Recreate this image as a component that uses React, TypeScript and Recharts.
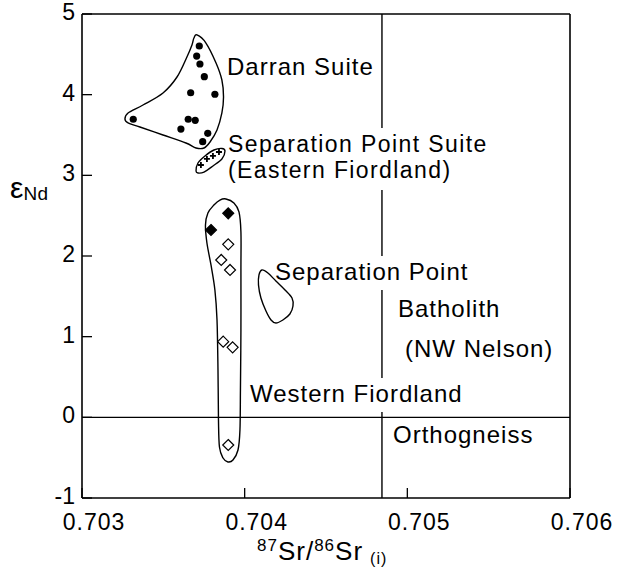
import React from "react";
import { ScatterChart, Scatter, XAxis, YAxis, ReferenceLine } from "recharts";

// Darran Suite (filled circles)
const darranSr = [0.703721, 0.703705, 0.703725, 0.703752, 0.703668, 0.703817, 0.703315, 0.703653, 0.703696, 0.703608, 0.703773, 0.703742];
const darranNd = [4.603, 4.479, 4.38, 4.223, 4.024, 4.005, 3.695, 3.695, 3.682, 3.574, 3.521, 3.417];

// Separation Point Suite, Eastern Fiordland (crosses)
const spsSr = [0.703731, 0.703768, 0.703805, 0.703842];
const spsNd = [3.128, 3.203, 3.24, 3.289];

// Western Fiordland orthogneiss (filled / open diamonds)
const wfFilledSr = [0.703899, 0.703793];
const wfFilledNd = [2.529, 2.322];
const wfOpenSr = [0.703899, 0.703856, 0.70391, 0.703868, 0.703926, 0.703899];
const wfOpenNd = [2.145, 1.951, 1.827, 0.938, 0.868, -0.343];

// field outlines
const darranFieldSr = [0.703707, 0.703762, 0.703824, 0.70386, 0.70387, 0.70386, 0.70383, 0.703787, 0.70375, 0.703701, 0.703639, 0.703498, 0.703356, 0.703283, 0.703264, 0.703283, 0.703375, 0.703498, 0.703584, 0.703645, 0.703676, 0.703688];
const darranFieldNd = [4.74, 4.64, 4.393, 4.182, 3.971, 3.773, 3.562, 3.413, 3.339, 3.339, 3.401, 3.5, 3.599, 3.649, 3.698, 3.773, 3.872, 4.021, 4.219, 4.467, 4.616, 4.702];
const spsFieldSr = [0.703701, 0.703713, 0.703756, 0.703811, 0.70386, 0.703879, 0.70386, 0.703805, 0.70375, 0.703713];
const spsFieldNd = [3.054, 3.153, 3.24, 3.314, 3.333, 3.302, 3.203, 3.116, 3.041, 3.029];
const wfFieldSr = [0.703885, 0.703934, 0.703965, 0.703977, 0.703977, 0.703977, 0.703974, 0.703971, 0.703959, 0.703928, 0.703897, 0.703867, 0.703845, 0.703839, 0.703836, 0.70383, 0.703817, 0.703793, 0.703768, 0.703759, 0.703774, 0.703811, 0.703848];
const wfFieldNd = [2.707, 2.657, 2.546, 2.298, 1.827, 1.083, 0.339, -0.157, -0.405, -0.529, -0.553, -0.504, -0.368, -0.033, 0.587, 1.207, 1.579, 1.889, 2.161, 2.384, 2.533, 2.632, 2.694];
const spbFieldSr = [0.704106, 0.704143, 0.704192, 0.704248, 0.704291, 0.704297, 0.704278, 0.704235, 0.704192, 0.704162, 0.704131, 0.7041, 0.704085, 0.704088];
const spbFieldNd = [1.827, 1.789, 1.69, 1.579, 1.479, 1.38, 1.281, 1.207, 1.17, 1.207, 1.318, 1.479, 1.641, 1.765];

// broken vertical divider (gaps where labels sit)
const dividerSr = 0.704844;
const dividerPieces = [[5, 3.587], [2.818, 2.0], [1.579, 0.488], [0.066, -1]];

const xTicks = [0.703, 0.704, 0.705, 0.706];
const yTicks = [-1, 0, 1, 2, 3, 4, 5];

const FONT = "'Liberation Sans', Arial, Helvetica, sans-serif";

const zip = (xs: number[], ys: number[]) => xs.map((x, i) => ({ x, y: ys[i] }));

// closed catmull-rom curve so the outlines pass through the read points
const closedSpline = (context: any) => {
  let pts: number[][] = [];
  return {
    areaStart() {},
    areaEnd() {},
    lineStart() { pts = []; },
    point(x: number, y: number) { pts.push([+x, +y]); },
    lineEnd() {
      const n = pts.length;
      if (!n) return;
      context.moveTo(pts[0][0], pts[0][1]);
      for (let i = 0; i < n; i++) {
        const p0 = pts[(i - 1 + n) % n], p1 = pts[i], p2 = pts[(i + 1) % n], p3 = pts[(i + 2) % n];
        context.bezierCurveTo(
          p1[0] + (p2[0] - p0[0]) / 6, p1[1] + (p2[1] - p0[1]) / 6,
          p2[0] - (p3[0] - p1[0]) / 6, p2[1] - (p3[1] - p1[1]) / 6,
          p2[0], p2[1]
        );
      }
      context.closePath();
    },
  };
};

const NoDot = () => <g />;
const Dot = (p: any) => <circle cx={p.cx} cy={p.cy} r={3.6} fill="#000" />;
const Cross = (p: any) => (
  <path d={`M${p.cx - 3},${p.cy}h6M${p.cx},${p.cy - 3}v6`} stroke="#000" strokeWidth={1.8} />
);
const Diamond = (filled: boolean) => (p: any) => (
  <path
    d={`M${p.cx},${p.cy - 5.5}L${p.cx + 5.5},${p.cy}L${p.cx},${p.cy + 5.5}L${p.cx - 5.5},${p.cy}Z`}
    fill={filled ? "#000" : "#fff"}
    stroke="#000"
    strokeWidth={1.2}
  />
);

const outline = { stroke: "#000", strokeWidth: 1.4 };

const fields = [
  { key: "darran", data: zip(darranFieldSr, darranFieldNd) },
  { key: "sps", data: zip(spsFieldSr, spsFieldNd) },
  { key: "wf", data: zip(wfFieldSr, wfFieldNd) },
  { key: "spb", data: zip(spbFieldSr, spbFieldNd) },
];

const notes = [
  { t: "Darran Suite", x: 227, y: 75, fs: 24, ls: 1 },
  { t: "Separation Point Suite", x: 228, y: 151.5, fs: 23, ls: 1.4 },
  { t: "(Eastern Fiordland)", x: 228, y: 177.5, fs: 23, ls: 1.4 },
  { t: "Separation Point", x: 275, y: 280, fs: 24, ls: 1 },
  { t: "Batholith", x: 398, y: 317, fs: 24, ls: 1 },
  { t: "(NW Nelson)", x: 405, y: 357, fs: 24, ls: 1 },
  { t: "Western Fiordland", x: 250, y: 402, fs: 24, ls: 1 },
  { t: "Orthogneiss", x: 393, y: 443, fs: 24, ls: 1 },
];

export default function App() {
  return (
    <div style={{ position: "absolute", left: 0, top: 0, width: 618, height: 576, background: "#fff" }}>
      <ScatterChart width={618} height={576} margin={{ top: 14, right: 48, bottom: 18, left: 22 }}>
        <XAxis
          type="number"
          dataKey="x"
          domain={[0.703, 0.706]}
          ticks={xTicks}
          allowDataOverflow
          height={60}
          tickFormatter={(v: number) => v.toFixed(3)}
          tickSize={-10}
          tickMargin={26}
          axisLine={{ stroke: "#000", strokeWidth: 1.6 }}
          tickLine={{ stroke: "#000", strokeWidth: 1.3 }}
          tick={{ fill: "#000", fontSize: 23, fontFamily: FONT, letterSpacing: 1, dx: 12 }}
        />
        <YAxis
          type="number"
          dataKey="y"
          domain={[-1, 5]}
          ticks={yTicks}
          allowDataOverflow
          width={60}
          tickSize={-10}
          tickMargin={17}
          axisLine={{ stroke: "#000", strokeWidth: 1.6 }}
          tickLine={{ stroke: "#000", strokeWidth: 1.3 }}
          tick={{ fill: "#000", fontSize: 23, fontFamily: FONT, dy: -2 }}
        />
        <ReferenceLine y={5} stroke="#000" strokeWidth={1.6} />
        <ReferenceLine x={0.706} stroke="#000" strokeWidth={1.6} />
        <ReferenceLine y={0} stroke="#000" strokeWidth={1.4} />
        {dividerPieces.map(([a, b], i) => (
          <ReferenceLine
            key={`div-${i}`}
            segment={[{ x: dividerSr, y: a }, { x: dividerSr, y: b }]}
            stroke="#000"
            strokeWidth={1.4}
          />
        ))}
        {fields.map((f) => (
          <Scatter
            key={f.key}
            data={f.data}
            fill="#000"
            line={outline}
            lineType="joint"
            lineJointType={closedSpline as any}
            shape={NoDot}
            isAnimationActive={false}
          />
        ))}
        <Scatter data={zip(darranSr, darranNd)} shape={Dot} isAnimationActive={false} />
        <Scatter data={zip(spsSr, spsNd)} shape={Cross} isAnimationActive={false} />
        <Scatter data={zip(wfOpenSr, wfOpenNd)} shape={Diamond(false)} isAnimationActive={false} />
        <Scatter data={zip(wfFilledSr, wfFilledNd)} shape={Diamond(true)} isAnimationActive={false} />
      </ScatterChart>
      <svg
        width={618}
        height={576}
        style={{ position: "absolute", left: 0, top: 0, pointerEvents: "none" }}
        fontFamily={FONT}
      >
        {notes.map((n) => (
          <text key={n.t} x={n.x} y={n.y} fontSize={n.fs} letterSpacing={n.ls} fill="#000">
            {n.t}
          </text>
        ))}
        <text x={10} y={198} fill="#000">
          <tspan fontSize={30}>ε</tspan>
          <tspan fontSize={19} dy={2} letterSpacing={0.5}>Nd</tspan>
        </text>
        <text x={257} y={560} fill="#000" letterSpacing={1}>
          <tspan fontSize={17} dy={-9}>87</tspan>
          <tspan fontSize={26} dy={9}>Sr/</tspan>
          <tspan fontSize={17} dy={-9}>86</tspan>
          <tspan fontSize={26} dy={9}>Sr</tspan>
          <tspan fontSize={16} dx={7} dy={4}>(i)</tspan>
        </text>
      </svg>
    </div>
  );
}
